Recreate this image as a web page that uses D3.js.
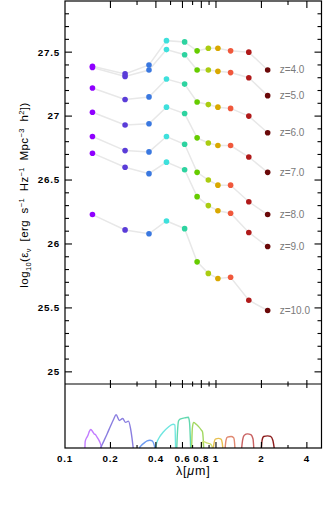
<!DOCTYPE html>
<html><head><meta charset="utf-8">
<script src="https://cdn.jsdelivr.net/npm/d3@7"></script>
<style>body{margin:0;background:#fff}svg{display:block}</style>
</head><body>
<svg id="c" width="323" height="515"></svg>
<script>
// ---- data ----
const wavelengths = [0.152, 0.25, 0.36, 0.47, 0.62, 0.75, 0.89, 1.03, 1.25, 1.65, 2.2];
const bandColors = ["#8f00ff","#5a3cd8","#3a78e0","#3ee0dc","#2ed3a0","#66cc00","#aacc11","#d9a800","#f0583c","#b01a1a","#6a0808"];
const redshifts = ["z=4.0","z=5.0","z=6.0","z=7.0","z=8.0","z=9.0","z=10.0"];
const z4  = [27.39,27.33,27.40,27.59,27.58,27.51,27.53,27.53,27.51,27.50,27.36];
const z5  = [27.38,27.31,27.36,27.52,27.48,27.36,27.36,27.35,27.34,27.30,27.16];
const z6  = [27.22,27.13,27.15,27.29,27.25,27.11,27.09,27.07,27.06,27.00,26.87];
const z7  = [27.03,26.93,26.94,27.07,27.02,26.83,26.79,26.77,26.77,26.68,26.56];
const z8  = [26.84,26.73,26.72,26.84,26.78,26.56,26.50,26.46,26.46,26.33,26.23];
const z9  = [26.71,26.60,26.55,26.64,26.58,26.37,26.30,26.26,26.24,26.09,25.98];
const z10 = [26.23,26.11,26.08,26.18,26.12,25.86,25.77,25.73,25.74,25.56,25.48];
const seriesValues = [z4,z5,z6,z7,z8,z9,z10];
const xTickLabels = [0.1,0.2,0.4,0.6,0.8,1,2,4];
const xMinorTicks = [0.3,0.5,0.7,0.9,3];
const yTickLabels = [25,25.5,26,26.5,27,27.5];

// filter transmission curves [lambda, T]
const filterColors = ["#c27cff","#8a7ee0","#6e9cf2","#6fe6e0","#62d8b0","#a2d860","#d0e070","#e8c050","#e08870","#c86060","#8c1c1c"];
const fFUV = [[0.1355,0],[0.136,0.1],[0.139,0.16],[0.142,0.2],[0.145,0.26],[0.148,0.29],[0.151,0.27],[0.153,0.25],[0.156,0.22],[0.159,0.21],[0.163,0.17],[0.167,0.13],[0.171,0.08],[0.175,0]];
const fNUV = [[0.172,0],[0.18,0.1],[0.19,0.22],[0.2,0.34],[0.21,0.45],[0.218,0.52],[0.229,0.43],[0.241,0.46],[0.252,0.4],[0.263,0.42],[0.272,0.3],[0.278,0.15],[0.283,0]];
const fu   = [[0.31,0],[0.32,0.04],[0.335,0.08],[0.35,0.11],[0.365,0.12],[0.378,0.11],[0.388,0.06],[0.394,0]];
const fg   = [[0.398,0],[0.405,0.08],[0.42,0.16],[0.448,0.25],[0.48,0.32],[0.52,0.37],[0.535,0.36],[0.54,0]];
const fr   = [[0.55,0],[0.556,0.25],[0.565,0.42],[0.578,0.45],[0.62,0.47],[0.656,0.48],[0.668,0.4],[0.68,0]];
const fi   = [[0.69,0],[0.697,0.3],[0.71,0.4],[0.74,0.37],[0.77,0.33],[0.80,0.28],[0.815,0.25],[0.83,0]];
const fz   = [[0.80,0],[0.81,0.09],[0.83,0.1],[0.87,0.08],[0.9,0.07],[0.93,0.05],[0.95,0]];
const fY   = [[0.96,0],[0.975,0.1],[0.99,0.14],[1.04,0.15],[1.08,0.14],[1.1,0.08],[1.11,0]];
const fJ   = [[1.15,0],[1.165,0.12],[1.19,0.17],[1.26,0.18],[1.31,0.16],[1.33,0.06],[1.335,0]];
const fH   = [[1.48,0],[1.5,0.12],[1.54,0.2],[1.62,0.22],[1.7,0.21],[1.76,0.14],[1.78,0]];
const fK   = [[2.0,0],[2.02,0.12],[2.07,0.18],[2.2,0.19],[2.3,0.18],[2.38,0.12],[2.43,0]];
const filters = [fFUV,fNUV,fu,fg,fr,fi,fz,fY,fJ,fH,fK];

// ---- layout ----
const L = 65, R = 321.5, T = 1, MB = 384, BB = 448;
const svg = d3.select("#c");
const x = d3.scaleLog().domain([0.1, 5]).range([L, R]);
const y = d3.scaleLinear().domain([24.905, 27.9]).range([MB, T]);
const yb = d3.scaleLinear().domain([0, 1]).range([BB, MB]);
const tickFont = "'Liberation Sans', Arial, sans-serif";

// connecting lines
const line = d3.line().x((d,i)=>x(wavelengths[i])).y(d=>y(d));
svg.append("g").selectAll("path").data(seriesValues).join("path")
  .attr("d", line).attr("fill","none").attr("stroke","#e8e8e8").attr("stroke-width",1.5);

// dots
seriesValues.forEach(vals=>{
  svg.append("g").selectAll("circle").data(vals).join("circle")
    .attr("cx",(d,i)=>x(wavelengths[i])).attr("cy",d=>y(d)).attr("r",2.8)
    .attr("fill",(d,i)=>bandColors[i]);
});

// z labels
svg.append("g").selectAll("text").data(seriesValues).join("text")
  .attr("x", x(wavelengths[wavelengths.length-1]) + 12)
  .attr("y", d=>y(d[d.length-1]) + 3.4)
  .attr("font-family", tickFont).attr("font-size", 10).attr("fill","#7a7a7a")
  .text((d,i)=>redshifts[i]);

// filter curves
const fline = d3.line().x(d=>x(d[0])).y(d=>yb(d[1])).curve(d3.curveMonotoneX);
svg.append("g").selectAll("path").data(filters).join("path")
  .attr("d", fline).attr("fill","none").attr("stroke",(d,i)=>filterColors[i]).attr("stroke-width",1.4);

// frames
const frame = svg.append("g").attr("fill","none").attr("stroke","#000").attr("stroke-width",1.2);
frame.append("rect").attr("x",L).attr("y",T).attr("width",R-L).attr("height",BB-T);
frame.append("line").attr("x1",L).attr("x2",R).attr("y1",MB).attr("y2",MB);

// y ticks (left & right, inward)
const yMinor = d3.range(249,280).map(v=>v/10).filter(v=>v>=24.95 && v<=27.85);
const tk = svg.append("g").attr("stroke","#000").attr("stroke-width",1.1);
yMinor.forEach(v=>{
  const major = Math.abs(v*2 - Math.round(v*2))<1e-6;
  const len = major?7:4;
  tk.append("line").attr("x1",L).attr("x2",L+len).attr("y1",y(v)).attr("y2",y(v));
  tk.append("line").attr("x1",R).attr("x2",R-len).attr("y1",y(v)).attr("y2",y(v));
});
// x ticks
const allX = xTickLabels.filter(v=>v>0.1).map(v=>({v,major:true})).concat(xMinorTicks.map(v=>({v,major:false})));
allX.forEach(t=>{
  const xx = x(t.v);
  const lenTop = t.major?7:4, lenMid = t.major?4:2.5, lenBot = t.major?6:3;
  tk.append("line").attr("x1",xx).attr("x2",xx).attr("y1",T).attr("y2",T+lenTop);
  tk.append("line").attr("x1",xx).attr("x2",xx).attr("y1",MB-lenMid).attr("y2",MB+lenMid);
  tk.append("line").attr("x1",xx).attr("x2",xx).attr("y1",BB).attr("y2",BB-lenBot);
});

// y tick labels
svg.append("g").selectAll("text").data(yTickLabels).join("text")
  .attr("x", L-5).attr("y", d=>y(d)+3.4).attr("text-anchor","end")
  .attr("font-family", tickFont).attr("font-weight","bold").attr("font-size",9.8)
  .attr("letter-spacing",0.8).text(d=>d);
// x tick labels
svg.append("g").selectAll("text").data(xTickLabels).join("text")
  .attr("x", d=>x(d)).attr("y", BB+14).attr("text-anchor","middle")
  .attr("font-family", tickFont).attr("font-weight","bold").attr("font-size",9.8)
  .attr("letter-spacing",0.8).text(d=>d);

// x label
const xl = svg.append("text").attr("x",(L+R)/2).attr("y",BB+27).attr("text-anchor","middle")
  .attr("font-family", tickFont).attr("font-size",12.5).attr("letter-spacing",0.8);
xl.append("tspan").text("λ[");
xl.append("tspan").attr("font-style","italic").text("μ");
xl.append("tspan").text("m]");

// y label
const yl = svg.append("text").attr("transform","translate(28,195) rotate(-90)")
  .attr("text-anchor","middle").attr("font-family", tickFont).attr("font-size",11.5)
  .attr("letter-spacing",0.4).attr("word-spacing",3);
yl.append("tspan").text("log");
yl.append("tspan").attr("font-size",7.5).attr("dy",2.5).text("10");
yl.append("tspan").attr("dy",-2.5).text("(ε");
yl.append("tspan").attr("font-size",7.5).attr("dy",2.5).text("ν");
yl.append("tspan").attr("dy",-2.5).text(" [erg s");
yl.append("tspan").attr("font-size",7.5).attr("dy",-4).text("−1");
yl.append("tspan").attr("dy",4).text(" Hz");
yl.append("tspan").attr("font-size",7.5).attr("dy",-4).text("−1");
yl.append("tspan").attr("dy",4).text(" Mpc");
yl.append("tspan").attr("font-size",7.5).attr("dy",-4).text("−3");
yl.append("tspan").attr("dy",4).text(" h");
yl.append("tspan").attr("font-size",7.5).attr("dy",-4).text("2");
yl.append("tspan").attr("dy",4).text("])");
</script>
</body></html>
